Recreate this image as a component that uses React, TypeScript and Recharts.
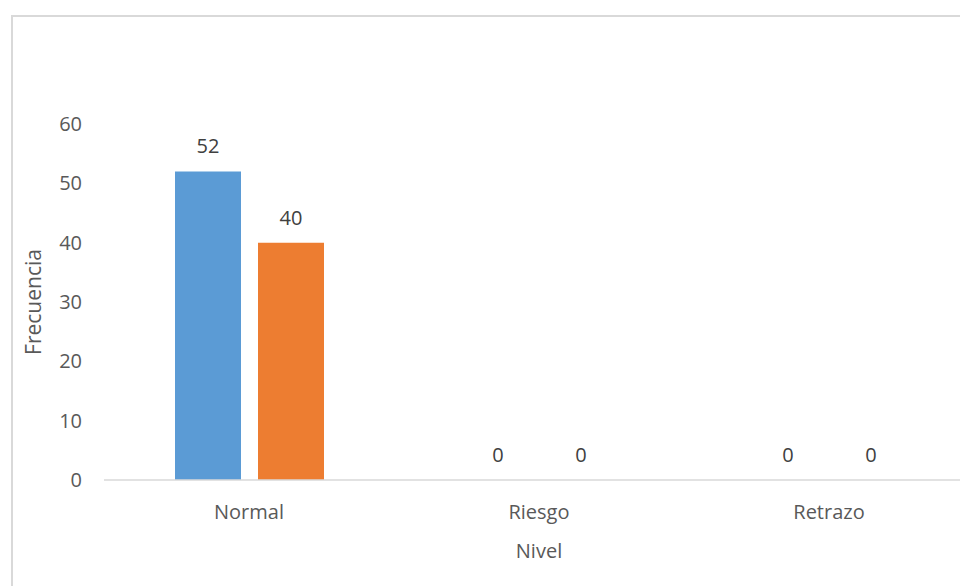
import React from 'react';
import { BarChart, Bar, XAxis, YAxis, LabelList, Label } from 'recharts';

const categories = ['Normal', 'Riesgo', 'Retrazo'];
const serieA = [52, 0, 0];
const serieB = [40, 0, 0];
const yTicks = [0, 10, 20, 30, 40, 50, 60];

const data = categories.map((nivel, i) => ({ nivel, serieA: serieA[i], serieB: serieB[i] }));

const textGray = '#595959';
const lineGray = '#d9d9d9';

const App: React.FC = () => {
  return (
    <div
      style={{
        position: 'absolute',
        left: 0,
        top: 0,
        width: 960,
        height: 586,
        overflow: 'hidden',
        background: '#fff',
        fontFamily: '"Open Sans", sans-serif',
      }}
    >
      <div
        style={{
          position: 'absolute',
          left: 11,
          top: 15,
          width: 1000,
          height: 600,
          border: `2px solid ${lineGray}`,
        }}
      />
      <div style={{ position: 'absolute', left: 0, top: 0 }}>
        <BarChart
          width={980}
          height={586}
          data={data}
          margin={{ top: 124, right: 6, bottom: 76, left: 0 }}
          barGap={17}
        >
          <XAxis
            dataKey="nivel"
            axisLine={{ stroke: lineGray, strokeWidth: 1.5 }}
            tickLine={false}
            tickMargin={19}
            height={30}
            tick={{ fill: textGray, fontSize: 20 }}
          >
            <Label value="Nivel" position="bottom" offset={34} fill={textGray} fontSize={20} />
          </XAxis>
          <YAxis
            domain={[0, 60]}
            ticks={yTicks}
            axisLine={false}
            tickLine={false}
            tickMargin={16}
            width={104}
            tick={{ fill: textGray, fontSize: 20 }}
          >
            <Label
              value="Frecuencia"
              position="insideLeft"
              angle={-90}
              offset={34}
              fill={textGray}
              fontSize={21}
              style={{ textAnchor: 'middle' }}
            />
          </YAxis>
          {/* tiny minPointSize so zero bars still get their "0" label */}
          <Bar dataKey="serieA" fill="#5B9BD5" barSize={66} minPointSize={0.01} isAnimationActive={false}>
            <LabelList dataKey="serieA" position="top" offset={18} fill="#404040" fontSize={20} />
          </Bar>
          <Bar dataKey="serieB" fill="#ED7D31" barSize={66} minPointSize={0.01} isAnimationActive={false}>
            <LabelList dataKey="serieB" position="top" offset={18} fill="#404040" fontSize={20} />
          </Bar>
        </BarChart>
      </div>
    </div>
  );
};

export default App;
